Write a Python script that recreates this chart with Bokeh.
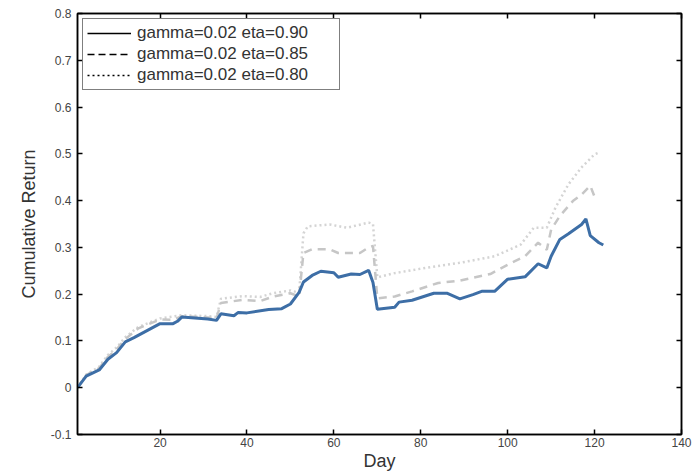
from bokeh.plotting import figure
from bokeh.models import (LinearAxis, FixedTicker, CustomJSTickFormatter, Legend,
                          LegendItem, Range1d)
from bokeh.embed import file_html
from bokeh.resources import INLINE

# ---- data ----
series_labels = ["gamma=0.02 eta=0.90", "gamma=0.02 eta=0.85", "gamma=0.02 eta=0.80"]

days_090 = [1, 3, 6, 8, 10, 12, 14, 20, 23, 24, 25, 31, 33, 34, 37, 38, 40, 45, 48, 50,
            52, 53, 55, 57, 60, 61, 64, 66, 68, 69, 70, 74, 75, 78, 83, 86, 89, 92, 94,
            97, 100, 104, 107, 109, 110, 112, 114, 117, 118, 119, 121, 122]
ret_090 = [0.000, 0.025, 0.038, 0.061, 0.075, 0.098, 0.107, 0.137, 0.137, 0.142, 0.151,
           0.147, 0.144, 0.158, 0.154, 0.161, 0.160, 0.167, 0.169, 0.179, 0.204, 0.226,
           0.240, 0.249, 0.246, 0.236, 0.243, 0.242, 0.251, 0.225, 0.168, 0.172, 0.183,
           0.187, 0.202, 0.202, 0.190, 0.199, 0.206, 0.206, 0.232, 0.237, 0.265, 0.256,
           0.281, 0.317, 0.329, 0.349, 0.361, 0.325, 0.310, 0.305]

days_085 = [1, 3, 6, 8, 10, 12, 15, 20, 23, 25, 31, 33, 34, 39, 43, 46, 50, 52, 53, 55,
            59, 61, 66, 68, 69, 70, 74, 78, 84, 89, 92, 96, 100, 104, 107, 109, 110, 112,
            115, 117, 119, 120]
ret_085 = [0.000, 0.027, 0.042, 0.066, 0.082, 0.104, 0.127, 0.146, 0.145, 0.153, 0.150,
           0.148, 0.181, 0.188, 0.185, 0.195, 0.202, 0.195, 0.288, 0.296, 0.296, 0.288,
           0.288, 0.300, 0.303, 0.191, 0.195, 0.206, 0.224, 0.229, 0.235, 0.243, 0.263,
           0.281, 0.310, 0.295, 0.338, 0.367, 0.399, 0.413, 0.432, 0.408]

days_080 = [1, 3, 6, 8, 10, 12, 15, 20, 25, 31, 33, 34, 39, 43, 46, 50, 52, 53, 54, 59,
            63, 68, 69, 70, 74, 81, 89, 97, 103, 106, 109, 111, 114, 117, 120, 121]
ret_080 = [0.000, 0.028, 0.045, 0.070, 0.086, 0.108, 0.130, 0.148, 0.155, 0.153, 0.151,
           0.190, 0.196, 0.194, 0.202, 0.208, 0.203, 0.330, 0.345, 0.349, 0.342, 0.353,
           0.350, 0.236, 0.245, 0.256, 0.267, 0.281, 0.306, 0.342, 0.342, 0.385, 0.435,
           0.471, 0.499, 0.503]

x_ticks = [20, 40, 60, 80, 100, 120, 140]
y_ticks = [-0.1, 0.0, 0.1, 0.2, 0.3, 0.4, 0.5, 0.6, 0.7, 0.8]

FONT = "Liberation Sans"
NAN = float("nan")

p = figure(width=698, height=473, x_range=Range1d(1, 140), y_range=Range1d(-0.1, 0.8),
           output_backend="svg", toolbar_location=None,
           min_border_left=77, min_border_right=17, min_border_top=13, min_border_bottom=38)
p.background_fill_color = "white"
p.border_fill_color = "white"
p.outline_line_color = "black"
p.outline_line_width = 1.5
p.xgrid.visible = False
p.ygrid.visible = False

# data lines
p.line(days_080, ret_080, line_color="#d4d4d4", line_width=2.5, line_dash="2 3")
p.line(days_085, ret_085, line_color="#c6c6c6", line_width=2.5, line_dash="8 6")
p.line(days_090, ret_090, line_color="#3d6ea6", line_width=3)

# legend proxies (black lines as in the reference legend); no visible points
l1 = p.line(x=[NAN, NAN], y=[NAN, NAN], line_color="black", line_width=1.3)
l2 = p.line(x=[NAN, NAN], y=[NAN, NAN], line_color="black", line_width=1.3, line_dash="7 4")
l3 = p.line(x=[NAN, NAN], y=[NAN, NAN], line_color="black", line_width=1.3, line_dash="2 3")

legend = Legend(items=[LegendItem(label=series_labels[0], renderers=[l1]),
                       LegendItem(label=series_labels[1], renderers=[l2]),
                       LegendItem(label=series_labels[2], renderers=[l3])],
                location="top_left", margin=5, padding=4, spacing=1,
                label_height=18, glyph_height=18, glyph_width=44, label_standoff=6,
                label_width=198,
                label_text_font=FONT, label_text_font_size="17px", label_text_color="#333333",
                border_line_color="black", border_line_width=1.3,
                background_fill_color="white", background_fill_alpha=1.0)
p.add_layout(legend)

yfmt = CustomJSTickFormatter(code="return Math.abs(tick) < 1e-9 ? '0' : tick.toFixed(1);")
blankfmt = CustomJSTickFormatter(code="return '';")

def style(ax):
    ax.axis_line_color = "black"
    ax.axis_line_width = 1.5
    ax.major_tick_line_color = "black"
    ax.major_tick_line_width = 1.5
    ax.major_tick_in = 5
    ax.major_tick_out = 0
    ax.minor_tick_line_color = None
    ax.major_label_text_font = FONT
    ax.major_label_text_font_size = "12px"
    ax.major_label_text_color = "#444444"
    ax.axis_label_text_font = FONT
    ax.axis_label_text_font_style = "normal"
    ax.axis_label_text_color = "#333333"

xa = p.xaxis[0]
ya = p.yaxis[0]
style(xa)
style(ya)
xa.ticker = FixedTicker(ticks=x_ticks)
ya.ticker = FixedTicker(ticks=y_ticks)
ya.formatter = yfmt
xa.axis_label = "Day"
ya.axis_label = "Cumulative Return"
xa.axis_label_text_font_size = "18px"
ya.axis_label_text_font_size = "18px"
xa.major_label_standoff = 3
xa.axis_label_standoff = 1
ya.major_label_standoff = 6
ya.axis_label_standoff = 9

top = LinearAxis(ticker=FixedTicker(ticks=x_ticks), formatter=blankfmt)
right = LinearAxis(ticker=FixedTicker(ticks=y_ticks), formatter=blankfmt)
for ax in (top, right):
    style(ax)
    ax.major_label_standoff = 0
p.add_layout(top, "above")
p.add_layout(right, "right")

open("out.html", "w").write(file_html(p, INLINE))
